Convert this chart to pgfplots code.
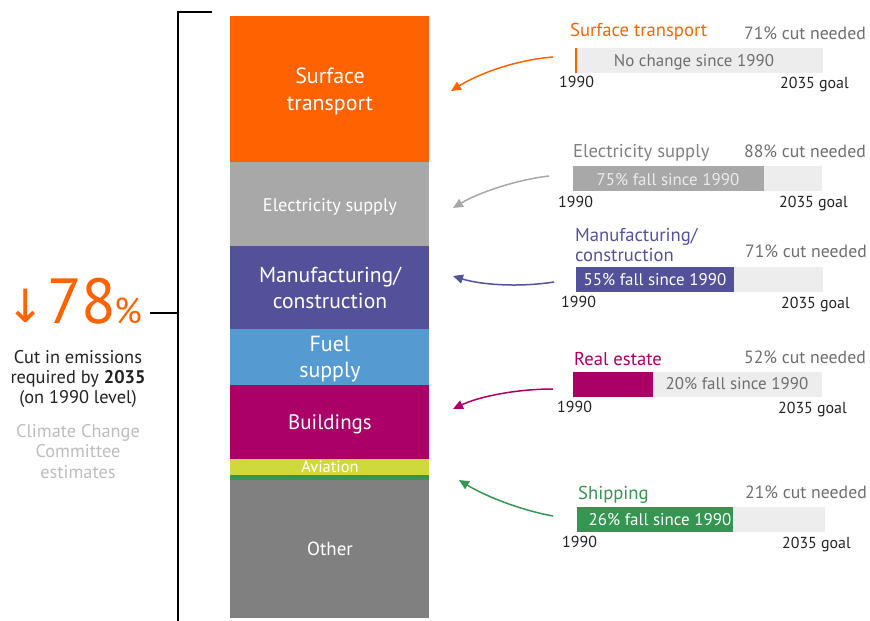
\documentclass[border=0pt]{standalone}
\usepackage{pgfplots}
\pgfplotsset{compat=1.18}
\usetikzlibrary{arrows.meta}
\usepackage{fontspec}
\setmainfont{PT Sans}
\newfontfamily\dejavu{DejaVu Sans}
\definecolor{ingorange}{HTML}{FF6200}
\definecolor{elecgray}{HTML}{A8A8A8}
\definecolor{ingpurple}{HTML}{525199}
\definecolor{ingblue}{HTML}{559BD1}
\definecolor{ingmagenta}{HTML}{AB0066}
\definecolor{inglime}{HTML}{D0D93C}
\definecolor{inggreen}{HTML}{349651}
\definecolor{othergray}{HTML}{808080}
\definecolor{barbg}{HTML}{EDEDED}
\definecolor{txtgray}{HTML}{6E6E6E}
\definecolor{ccgray}{HTML}{BDBDBD}
\definecolor{txtdark}{HTML}{222222}
\newcommand{\fs}[1]{\fontsize{#1}{#1}\selectfont}
\pgfplotsset{canvas/.style={at={(0,0)},anchor=south west,scale only axis,
  width=870bp,height=621bp,xmin=0,xmax=870,ymin=0,ymax=621,
  y dir=reverse,hide axis,clip=false}}
\begin{document}
\begin{tikzpicture}
\useasboundingbox (0,0) rectangle (870bp,621bp);
% main stacked column (segment heights, top to bottom)
\begin{axis}[canvas, ybar stacked, bar width=199bp]
\addplot[draw=none,fill=none] coordinates {(329.5,16)};
\addplot[draw=none,fill=ingorange]  coordinates {(329.5,146)};
\addplot[draw=none,fill=elecgray]   coordinates {(329.5,84)};
\addplot[draw=none,fill=ingpurple]  coordinates {(329.5,83)};
\addplot[draw=none,fill=ingblue]    coordinates {(329.5,56)};
\addplot[draw=none,fill=ingmagenta] coordinates {(329.5,74)};
\addplot[draw=none,fill=inglime]    coordinates {(329.5,16)};
\addplot[draw=none,fill=inggreen]   coordinates {(329.5,5)};
\addplot[draw=none,fill=othergray]  coordinates {(329.5,138)};
\end{axis}
\begin{axis}[canvas]
% bracket
\addplot[black,line width=2.5bp] coordinates {(212,12) (178,12) (178,621)};
\addplot[black,line width=2bp] coordinates {(150,313) (178,313)};
% column labels
\begin{scope}[every node/.style={text=white,anchor=base}]
\node[font=\fs{22}] at (330,84) {Surface};
\node[font=\fs{22}] at (330,110) {transport};
\node[font=\fs{18.4}] at (330,211) {Electricity supply};
\node[font=\fs{21.7}] at (330,282) {Manufacturing/};
\node[font=\fs{21.7}] at (330,308) {construction};
\node[font=\fs{22}] at (330,351) {Fuel};
\node[font=\fs{22}] at (330,377) {supply};
\node[font=\fs{21}] at (330,429) {Buildings};
\node[font=\fs{16.5}] at (330,472) {Aviation};
\node[font=\fs{19}] at (330,555) {Other};
\end{scope}
% left text
\node[anchor=base west,text=ingorange,font=\fs{46}\dejavu,inner sep=0pt] at (6,322) {↓};
\node[anchor=base west,text=ingorange,font=\fs{64},inner sep=0pt] at (47,323) {78};
\node[anchor=base west,text=ingorange,font=\fs{36},inner sep=0pt] at (114,323) {\%};
\begin{scope}[every node/.style={anchor=base,font=\fs{18.4},text=txtdark}]
\node at (78,363) {Cut in emissions};
\node at (78,383.5) {required by \textbf{2035}};
\node at (78,403.5) {(on 1990 level)};
\node[text=ccgray] at (78,437) {Climate Change};
\node[text=ccgray] at (78,457.5) {Committee};
\node[text=ccgray] at (78,478) {estimates};
\end{scope}
% mini bars: backgrounds
\addplot[draw=none,fill=barbg] coordinates {(575,48) (823,48) (823,73) (575,73)} --cycle;
\addplot[draw=none,fill=barbg] coordinates {(573,166) (822,166) (822,191) (573,191)} --cycle;
\addplot[draw=none,fill=barbg] coordinates {(576,267) (823,267) (823,292) (576,292)} --cycle;
\addplot[draw=none,fill=barbg] coordinates {(573,372) (822,372) (822,397) (573,397)} --cycle;
\addplot[draw=none,fill=barbg] coordinates {(577,507) (825,507) (825,532) (577,532)} --cycle;
% mini bars: falls since 1990
\addplot[draw=none,fill=ingorange]  coordinates {(575,48) (577,48) (577,73) (575,73)} --cycle;
\addplot[draw=none,fill=elecgray]   coordinates {(573,166) (764,166) (764,191) (573,191)} --cycle;
\addplot[draw=none,fill=ingpurple]  coordinates {(576,267) (734,267) (734,292) (576,292)} --cycle;
\addplot[draw=none,fill=ingmagenta] coordinates {(573,372) (653,372) (653,397) (573,397)} --cycle;
\addplot[draw=none,fill=inggreen]   coordinates {(577,507) (733,507) (733,532) (577,532)} --cycle;
% mini chart titles
\begin{scope}[every node/.style={anchor=base west,font=\fs{18.7},inner sep=0pt}]
\node[text=ingorange] at (570,37) {Surface transport};
\node[text=othergray] at (573,157) {Electricity supply};
\node[text=ingpurple] at (575,241) {Manufacturing/};
\node[text=ingpurple] at (575,261) {construction};
\node[text=ingmagenta] at (574,365) {Real estate};
\node[text=inggreen] at (578,499) {Shipping};
\end{scope}
% cut needed
\begin{scope}[every node/.style={anchor=base east,font=\fs{17.8},text=txtgray,inner sep=0pt}]
\node at (866,40) {71\% cut needed};
\node at (866,157) {88\% cut needed};
\node at (867,257) {71\% cut needed};
\node at (866,363) {52\% cut needed};
\node at (867,498) {21\% cut needed};
\end{scope}
% bar texts
\node[anchor=base,font=\fs{17},text=txtgray] at (694,67) {No change since 1990};
\node[anchor=base,font=\fs{17},text=white!92!black] at (668,185) {75\% fall since 1990};
\node[anchor=base,font=\fs{17},text=white] at (655,285) {55\% fall since 1990};
\node[anchor=base,font=\fs{17},text=txtgray] at (737,389) {20\% fall since 1990};
\node[anchor=base,font=\fs{17},text=white] at (660,525) {26\% fall since 1990};
% axis end labels
\begin{scope}[every node/.style={font=\fs{16},text=txtdark,inner sep=0pt}]
\node[anchor=base west] at (559,88) {1990};
\node[anchor=base east] at (849,89) {2035 goal};
\node[anchor=base west] at (558,207) {1990};
\node[anchor=base east] at (848,207) {2035 goal};
\node[anchor=base west] at (561,307) {1990};
\node[anchor=base east] at (850,308) {2035 goal};
\node[anchor=base west] at (557,412) {1990};
\node[anchor=base east] at (847,413) {2035 goal};
\node[anchor=base west] at (562,547) {1990};
\node[anchor=base east] at (851,548) {2035 goal};
\end{scope}
% arrows
\begin{scope}[line width=1.5bp,-{Triangle[length=10bp,width=9bp]}]
\draw[ingorange] (553,57) .. controls (515,60) and (478,74) .. (451,91);
\draw[elecgray] (549,176) .. controls (515,180) and (478,193) .. (453,208);
\draw[ingpurple] (554,282) .. controls (515,288) and (478,284) .. (453,276);
\draw[ingmagenta] (553,389) .. controls (515,389) and (478,397) .. (453,409);
\draw[inggreen] (553,516) .. controls (520,510) and (485,496) .. (459,480);
\end{scope}
\end{axis}
\end{tikzpicture}
\end{document}
